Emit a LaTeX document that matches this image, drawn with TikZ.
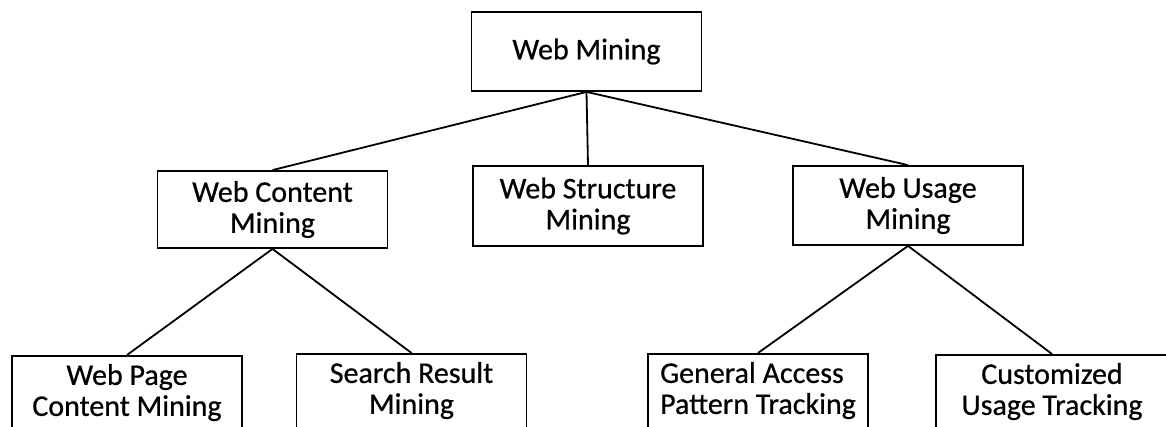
\documentclass[tikz,border=0pt]{standalone}
\usepackage{fontspec}
\setmainfont{Carlito}
\newfontfamily\boxfont{Carlito}[FakeBold=0.6]

\begin{document}
\begin{tikzpicture}[x=1pt,y=-1pt,
  box/.style={draw,line width=1.8pt,minimum width=230pt,minimum height=79pt,align=center,inner sep=0pt,font=\boxfont\fontsize{30}{31}\selectfont},
  low/.style={box,anchor=north,minimum height=0pt,text height=60pt,text depth=20pt},
  link/.style={line width=1.8pt}]
\useasboundingbox (0,0) rectangle (1166,427);
\clip (0,0) rectangle (1166,427);
\node (mining) at (586.5,51.5) [box] {Web Mining};
\node (content) at (272.5,209.5) [box,minimum height=77pt] {Web Content\\Mining};
\node (structure) at (588,206) [box,minimum height=80pt] {Web Structure\\Mining};
\node (usage) at (908,205.5) [box] {Web Usage\\Mining};
\node (page) at (127,355) [low] {Web Page\\Content Mining};
\node (search) at (411.5,353) [low] {Search Result\\Mining};
\node (general) at (758,353) [low,minimum width=220pt,align=left] {General Access\\Pattern Tracking};
\node (custom) at (1052,354) [low,minimum width=232pt] {Customized\\Usage Tracking};
\draw[link] (mining.south) -- (content.north);
\draw[link] (mining.south) -- (structure.north);
\draw[link] (mining.south) -- (usage.north);
\draw[link] (content.south) -- (page.north);
\draw[link] (content.south) -- (search.north);
\draw[link] (usage.south) -- (general.north);
\draw[link] (usage.south) -- (custom.north);
\end{tikzpicture}
\end{document}
